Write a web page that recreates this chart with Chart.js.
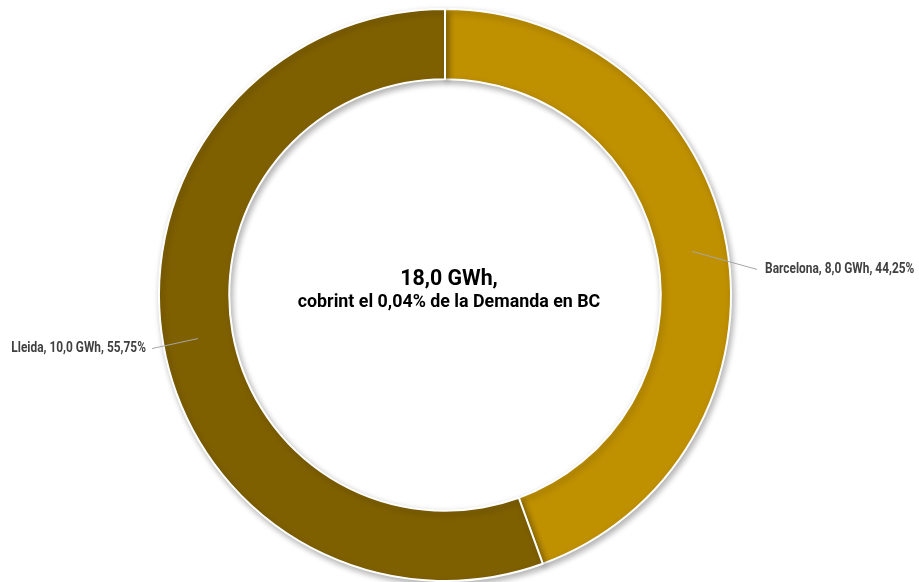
<!DOCTYPE html>
<html>
<head>
<meta charset="utf-8">
<script src="https://cdn.jsdelivr.net/npm/chart.js@4"></script>
<style>
  html, body { margin: 0; padding: 0; background: #ffffff; }
  #wrap { width: 919px; height: 582px; }
</style>
</head>
<body>
<div id="wrap"><canvas id="graficoDonut" width="919" height="582"></canvas></div>
<script>
// dades
const provincies = ["Barcelona", "Lleida"];
const energiaGWh = [8.0, 10.0];
const percentatges = ["44,25%", "55,75%"];
const etiquetes = ["Barcelona, 8,0 GWh, 44,25%", "Lleida, 10,0 GWh, 55,75%"];
const colors = ["#BF9000", "#7F6000"];
const textCentre = ["18,0 GWh,", "cobrint el 0,04% de la Demanda en BC"];

const fontText = "Roboto, 'Liberation Sans', sans-serif";

// escriu text comprimit horitzontalment (la font original és estreta)
function textEstret(ctx, text, x, y, escala) {
    ctx.save();
    ctx.translate(x, y);
    ctx.scale(escala, 1);
    ctx.fillText(text, 0, 0);
    ctx.restore();
}

// ombra suau sota l'anell
const ombraPlugin = {
    id: "ombra",
    beforeDatasetsDraw(chart) {
        const ctx = chart.ctx;
        ctx.save();
        ctx.shadowColor = "rgba(0,0,0,0.30)";
        ctx.shadowBlur = 6;
        ctx.shadowOffsetX = 2;
        ctx.shadowOffsetY = 3;
    },
    afterDatasetsDraw(chart) {
        chart.ctx.restore();
    }
};

// etiquetes amb línia guia
const etiquetesPlugin = {
    id: "etiquetes",
    afterDatasetsDraw(chart) {
        const ctx = chart.ctx;
        const meta = chart.getDatasetMeta(0);
        ctx.save();
        meta.data.forEach(function(arc, i) {
            const p = arc.getProps(["x", "y", "startAngle", "endAngle", "innerRadius", "outerRadius"], true);
            const mig = (p.startAngle + p.endAngle) / 2;
            const r = (p.innerRadius + p.outerRadius) / 2;
            const x0 = p.x + Math.cos(mig) * r;
            const y0 = p.y + Math.sin(mig) * r;
            const dreta = Math.cos(mig) >= 0;
            const x1 = x0 + (dreta ? 65 : -46);
            const y1 = y0 + (dreta ? 18 : 10);

            ctx.strokeStyle = "#a6a6a6";
            ctx.lineWidth = 1;
            ctx.beginPath();
            ctx.moveTo(x0, y0);
            ctx.lineTo(x1, y1);
            ctx.stroke();

            ctx.fillStyle = "#404040";
            ctx.font = "bold 14px " + fontText;
            ctx.textBaseline = "middle";
            ctx.textAlign = dreta ? "left" : "right";
            textEstret(ctx, etiquetes[i], x1 + (dreta ? 8 : -6), y1, 0.85);
        });
        ctx.restore();
    }
};

// text al centre del donut
const centrePlugin = {
    id: "centre",
    afterDraw(chart) {
        const ctx = chart.ctx;
        const arc = chart.getDatasetMeta(0).data[0];
        const cx = arc.x + 4;
        const cy = arc.y;
        ctx.save();
        ctx.fillStyle = "#000000";
        ctx.textAlign = "center";
        ctx.textBaseline = "middle";
        ctx.font = "bold 22px " + fontText;
        textEstret(ctx, textCentre[0], cx, cy - 16, 0.97);
        ctx.font = "bold 18px " + fontText;
        textEstret(ctx, textCentre[1], cx, cy + 7, 0.99);
        ctx.restore();
    }
};

document.addEventListener("DOMContentLoaded", function () {
    const ctx = document.getElementById("graficoDonut").getContext("2d");

    new Chart(ctx, {
        type: "doughnut",
        data: {
            labels: provincies,
            datasets: [{
                data: energiaGWh,
                backgroundColor: colors,
                borderColor: "#ffffff",
                borderWidth: 2,
                radius: 286,
                cutout: 215
            }]
        },
        options: {
            responsive: false,
            animation: false,
            layout: { padding: { left: 0, right: 29, top: 9, bottom: 1 } },
            plugins: {
                legend: { display: false },
                tooltip: { enabled: false }
            }
        },
        plugins: [ombraPlugin, etiquetesPlugin, centrePlugin]
    });
});
</script>
</body>
</html>
